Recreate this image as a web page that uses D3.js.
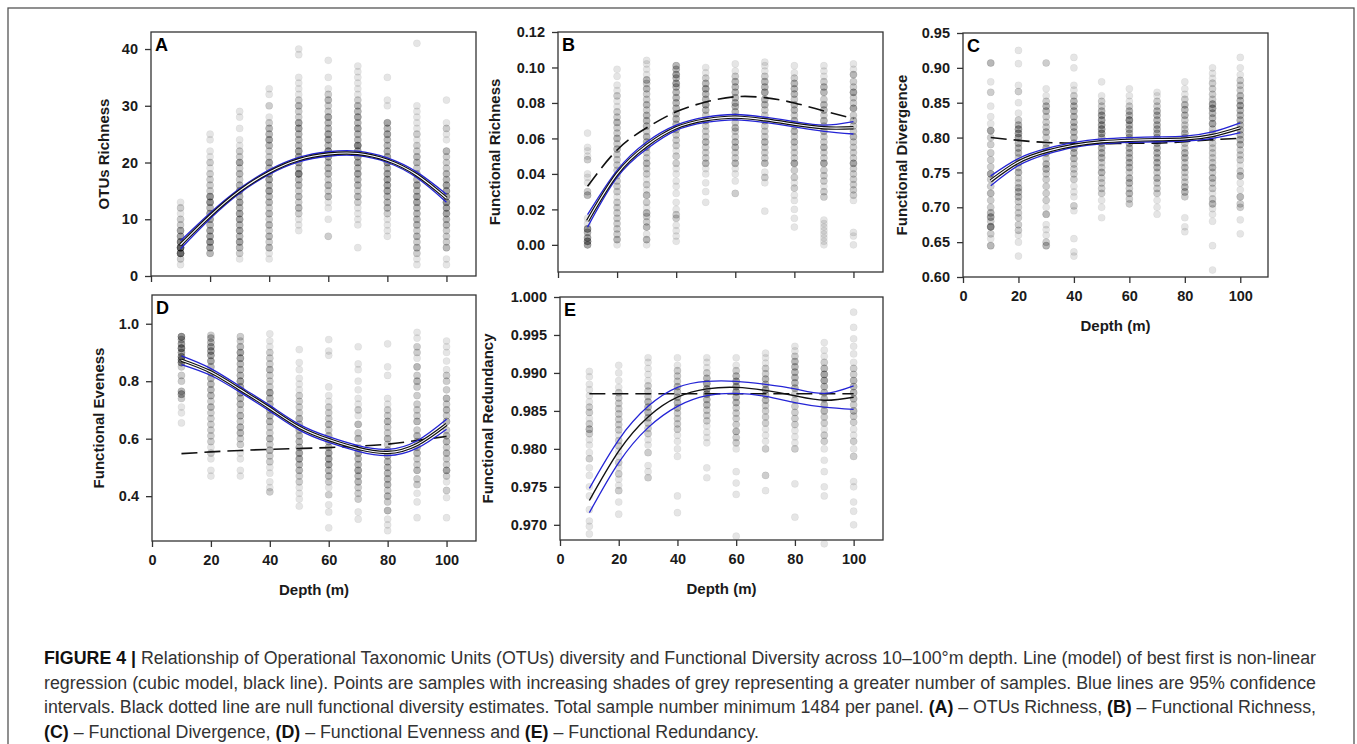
<!DOCTYPE html>
<html><head><meta charset="utf-8">
<script src="https://cdn.jsdelivr.net/npm/d3@7"></script>
<style>body{margin:0;background:#fff}svg{display:block}</style>
</head><body>
<script>
// ---------- DATA ----------
const depths = [10,20,30,40,50,60,70,80,90,100];
const xTicks = [0,20,40,60,80,100];

// points: per depth, [value, number of overlapping samples]
const ptsA = [
 [[2,1],[3,2],[4,8],[5,9],[6,6],[7,4],[8,4],[9,2],[10,2],[11,1],[12,2],[13,1]],
 [[4,3],[5,4],[6,5],[7,4],[8,4],[9,3],[10,4],[11,4],[12,3],[13,5],[14,5],[15,2],[16,2],[17,2],[18,2],[19,1],[20,2],[21,1],[22,1],[24,1],[25,1]],
 [[3,1],[4,2],[5,3],[6,4],[7,3],[8,4],[9,3],[10,4],[11,4],[12,3],[13,4],[14,3],[15,4],[16,3],[17,2],[18,3],[19,2],[20,4],[21,2],[22,2],[23,1],[24,1],[26,1],[28,1],[29,1]],
 [[3,1],[4,1],[5,3],[6,2],[7,3],[8,2],[9,3],[10,2],[11,3],[12,2],[13,3],[14,3],[15,4],[16,3],[17,4],[18,4],[19,3],[20,4],[21,2],[22,2],[23,3],[24,4],[25,3],[26,3],[27,2],[28,1],[30,2],[32,1],[33,1]],
 [[8,1],[9,1],[10,1],[11,2],[12,3],[13,2],[14,3],[15,2],[16,3],[17,3],[18,6],[19,3],[20,4],[21,4],[22,4],[23,3],[24,3],[25,3],[26,4],[27,4],[28,2],[29,2],[30,3],[31,2],[32,1],[33,1],[34,1],[35,1],[39,1],[40,1]],
 [[7,2],[10,1],[12,1],[13,1],[14,3],[15,2],[16,3],[17,2],[18,3],[19,3],[20,3],[21,4],[22,5],[23,3],[24,4],[25,4],[26,3],[27,3],[28,4],[29,2],[30,2],[31,3],[32,2],[33,1],[35,1],[38,1]],
 [[5,1],[9,1],[10,1],[11,1],[12,1],[13,2],[14,3],[15,2],[16,3],[17,3],[18,4],[19,3],[20,4],[21,4],[22,4],[23,6],[24,3],[25,3],[26,4],[27,3],[28,4],[29,3],[30,3],[31,2],[32,1],[33,1],[34,1],[35,1],[36,1],[37,1]],
 [[7,1],[8,1],[9,1],[10,1],[11,2],[12,3],[13,3],[14,3],[15,4],[16,4],[17,4],[18,4],[19,3],[20,5],[21,4],[22,3],[23,3],[24,3],[25,4],[26,3],[27,4],[30,1],[31,1],[35,1]],
 [[2,1],[3,1],[4,2],[5,3],[6,2],[7,3],[8,2],[9,3],[10,3],[11,3],[12,3],[13,4],[14,4],[15,3],[16,4],[17,3],[18,3],[19,2],[20,3],[21,3],[22,2],[23,2],[24,1],[25,2],[26,1],[27,1],[28,1],[29,1],[30,1],[41,1]],
 [[2,1],[3,1],[5,3],[6,2],[7,2],[8,2],[9,3],[10,3],[11,4],[12,4],[13,5],[14,4],[15,4],[16,4],[17,3],[18,3],[19,2],[20,2],[21,2],[22,3],[24,1],[25,1],[26,2],[27,1],[31,1]]
];
const ptsB = [
 [[0.000,4],[0.002,5],[0.004,4],[0.007,3],[0.009,5],[0.012,1],[0.015,1],[0.028,3],[0.030,2],[0.035,1],[0.038,1],[0.040,1],[0.048,2],[0.050,1],[0.053,1],[0.055,1],[0.063,1]],
 [[0.000,1],[0.003,3],[0.006,2],[0.009,2],[0.012,2],[0.015,2],[0.018,2],[0.021,2],[0.024,2],[0.027,1],[0.030,2],[0.033,2],[0.036,2],[0.039,2],[0.042,2],[0.045,2],[0.048,2],[0.051,2],[0.054,3],[0.057,2],[0.060,3],[0.063,2],[0.066,2],[0.069,3],[0.072,2],[0.075,2],[0.078,1],[0.081,1],[0.084,2],[0.087,1],[0.090,1],[0.095,1],[0.099,1]],
 [[0.000,1],[0.003,3],[0.006,1],[0.010,3],[0.013,2],[0.016,2],[0.018,3],[0.021,1],[0.024,2],[0.028,3],[0.031,1],[0.034,2],[0.037,1],[0.040,2],[0.043,2],[0.046,3],[0.049,2],[0.052,2],[0.055,3],[0.058,3],[0.061,3],[0.064,2],[0.067,3],[0.070,3],[0.073,3],[0.076,2],[0.079,3],[0.082,2],[0.085,2],[0.088,3],[0.091,2],[0.093,3],[0.096,1],[0.099,1],[0.102,1],[0.104,1]],
 [[0.002,1],[0.005,1],[0.008,1],[0.011,1],[0.015,2],[0.017,2],[0.020,1],[0.024,1],[0.029,1],[0.033,1],[0.036,1],[0.040,1],[0.043,1],[0.046,2],[0.050,2],[0.053,1],[0.056,2],[0.059,2],[0.062,2],[0.065,3],[0.068,3],[0.071,3],[0.074,3],[0.077,3],[0.080,3],[0.083,3],[0.086,3],[0.089,3],[0.091,4],[0.094,3],[0.096,4],[0.099,3],[0.101,3]],
 [[0.024,1],[0.030,1],[0.035,1],[0.040,1],[0.043,1],[0.046,3],[0.049,2],[0.052,2],[0.055,2],[0.058,3],[0.061,2],[0.064,2],[0.067,2],[0.070,3],[0.073,2],[0.076,3],[0.079,4],[0.082,3],[0.085,3],[0.088,4],[0.091,3],[0.094,2],[0.097,1],[0.100,1]],
 [[0.029,2],[0.036,1],[0.040,1],[0.043,1],[0.046,3],[0.049,2],[0.052,2],[0.055,3],[0.058,3],[0.061,2],[0.064,2],[0.066,3],[0.069,2],[0.072,3],[0.075,3],[0.078,3],[0.080,3],[0.083,3],[0.086,3],[0.089,3],[0.092,3],[0.095,2],[0.098,1],[0.102,1]],
 [[0.019,1],[0.035,1],[0.038,2],[0.041,1],[0.046,3],[0.049,2],[0.052,2],[0.055,2],[0.058,3],[0.061,2],[0.064,2],[0.067,2],[0.070,3],[0.073,2],[0.076,2],[0.079,3],[0.082,3],[0.086,4],[0.089,3],[0.092,3],[0.095,2],[0.098,1],[0.101,1],[0.103,1]],
 [[0.010,1],[0.015,1],[0.020,1],[0.025,1],[0.028,1],[0.032,2],[0.035,1],[0.038,2],[0.042,2],[0.046,4],[0.049,2],[0.052,2],[0.055,2],[0.058,3],[0.061,2],[0.064,3],[0.067,2],[0.070,3],[0.073,2],[0.076,3],[0.079,3],[0.082,2],[0.085,3],[0.088,3],[0.091,3],[0.094,2],[0.097,1],[0.101,1]],
 [[0.000,1],[0.002,1],[0.004,1],[0.006,1],[0.008,1],[0.010,1],[0.012,1],[0.014,1],[0.027,2],[0.030,2],[0.033,1],[0.036,2],[0.039,2],[0.042,2],[0.046,4],[0.049,2],[0.052,2],[0.055,3],[0.058,2],[0.061,2],[0.064,3],[0.067,2],[0.070,3],[0.073,2],[0.076,3],[0.079,3],[0.082,2],[0.086,3],[0.089,3],[0.092,2],[0.095,1],[0.098,1],[0.101,1]],
 [[0.000,1],[0.005,1],[0.007,1],[0.025,1],[0.028,2],[0.031,2],[0.034,2],[0.037,2],[0.040,2],[0.043,2],[0.046,4],[0.049,2],[0.052,2],[0.055,2],[0.058,2],[0.061,3],[0.064,2],[0.067,2],[0.070,3],[0.073,2],[0.077,4],[0.080,2],[0.083,2],[0.086,4],[0.089,2],[0.092,2],[0.096,3],[0.099,1],[0.102,1]]
];
const ptsC = [
 [[0.645,3],[0.655,1],[0.662,2],[0.672,6],[0.680,2],[0.686,4],[0.692,3],[0.700,2],[0.710,2],[0.720,3],[0.730,2],[0.740,2],[0.748,4],[0.758,2],[0.768,2],[0.778,2],[0.790,2],[0.800,2],[0.810,4],[0.820,1],[0.830,1],[0.845,1],[0.865,2],[0.880,1],[0.907,3]],
 [[0.630,1],[0.650,1],[0.660,1],[0.667,2],[0.675,2],[0.685,2],[0.692,2],[0.700,2],[0.708,2],[0.715,3],[0.722,3],[0.728,3],[0.735,2],[0.742,2],[0.750,3],[0.757,2],[0.764,3],[0.771,2],[0.778,3],[0.785,3],[0.792,3],[0.800,4],[0.806,4],[0.812,4],[0.818,3],[0.825,2],[0.835,1],[0.850,1],[0.866,2],[0.875,1],[0.906,1],[0.925,1]],
 [[0.645,3],[0.650,2],[0.660,1],[0.668,1],[0.675,1],[0.690,3],[0.700,1],[0.710,2],[0.720,2],[0.730,2],[0.740,2],[0.748,2],[0.755,3],[0.762,3],[0.770,2],[0.778,3],[0.785,3],[0.792,2],[0.800,2],[0.808,3],[0.815,2],[0.822,2],[0.830,2],[0.838,3],[0.845,3],[0.852,2],[0.860,1],[0.870,1],[0.907,2]],
 [[0.630,1],[0.636,1],[0.655,1],[0.695,1],[0.702,2],[0.715,1],[0.722,1],[0.730,1],[0.740,2],[0.748,2],[0.755,2],[0.762,2],[0.770,3],[0.778,3],[0.785,3],[0.792,3],[0.800,3],[0.808,3],[0.815,3],[0.822,3],[0.830,3],[0.838,3],[0.845,3],[0.852,3],[0.860,2],[0.868,1],[0.875,1],[0.900,1],[0.915,1]],
 [[0.685,1],[0.700,1],[0.710,1],[0.720,2],[0.727,2],[0.735,2],[0.742,2],[0.750,3],[0.757,2],[0.764,2],[0.771,3],[0.778,3],[0.785,3],[0.792,3],[0.800,3],[0.806,4],[0.812,4],[0.818,4],[0.825,4],[0.832,4],[0.838,3],[0.845,2],[0.852,2],[0.860,1],[0.880,1]],
 [[0.705,2],[0.712,2],[0.720,3],[0.727,2],[0.735,3],[0.742,3],[0.750,2],[0.757,3],[0.764,3],[0.771,3],[0.778,3],[0.785,3],[0.792,3],[0.800,3],[0.806,3],[0.812,3],[0.818,3],[0.825,5],[0.832,3],[0.838,3],[0.845,2],[0.852,1],[0.860,1],[0.870,1]],
 [[0.690,1],[0.700,1],[0.710,1],[0.720,2],[0.727,2],[0.735,2],[0.742,3],[0.750,2],[0.757,3],[0.764,3],[0.771,3],[0.778,3],[0.785,3],[0.792,3],[0.800,3],[0.806,3],[0.812,3],[0.818,3],[0.825,3],[0.832,3],[0.838,3],[0.845,2],[0.852,2],[0.860,1],[0.865,1]],
 [[0.665,1],[0.672,1],[0.685,1],[0.715,2],[0.722,3],[0.729,3],[0.736,2],[0.743,2],[0.750,2],[0.757,3],[0.764,2],[0.771,3],[0.778,3],[0.785,2],[0.792,2],[0.800,3],[0.806,3],[0.812,2],[0.818,2],[0.825,2],[0.832,3],[0.840,3],[0.847,3],[0.855,2],[0.862,1],[0.870,1],[0.880,1]],
 [[0.610,1],[0.645,1],[0.680,1],[0.690,1],[0.698,1],[0.705,3],[0.712,2],[0.720,1],[0.727,2],[0.735,2],[0.742,3],[0.750,2],[0.757,3],[0.764,2],[0.771,2],[0.778,2],[0.785,2],[0.792,2],[0.800,3],[0.806,2],[0.812,2],[0.820,4],[0.828,3],[0.835,3],[0.842,4],[0.848,4],[0.855,2],[0.862,2],[0.870,2],[0.878,2],[0.885,1],[0.892,1],[0.900,1]],
 [[0.662,1],[0.682,1],[0.700,2],[0.705,2],[0.715,3],[0.725,1],[0.735,1],[0.745,3],[0.752,2],[0.760,1],[0.768,2],[0.775,2],[0.782,2],[0.790,3],[0.797,3],[0.804,3],[0.811,3],[0.818,3],[0.825,3],[0.832,3],[0.839,3],[0.846,4],[0.853,3],[0.860,3],[0.868,2],[0.875,2],[0.882,2],[0.890,1],[0.900,1],[0.915,1]]
];
const ptsD = [
 [[0.655,1],[0.690,1],[0.710,1],[0.740,2],[0.755,4],[0.765,3],[0.800,2],[0.820,2],[0.850,2],[0.865,5],[0.875,4],[0.885,5],[0.900,4],[0.915,6],[0.930,4],[0.945,3],[0.955,5]],
 [[0.470,1],[0.490,1],[0.530,1],[0.550,2],[0.570,1],[0.590,2],[0.610,2],[0.630,2],[0.650,2],[0.670,2],[0.690,2],[0.710,3],[0.730,2],[0.750,3],[0.770,3],[0.790,3],[0.810,3],[0.830,3],[0.850,3],[0.870,4],[0.890,4],[0.905,4],[0.920,4],[0.935,3],[0.950,3],[0.960,2]],
 [[0.470,1],[0.490,1],[0.530,1],[0.550,1],[0.580,2],[0.600,2],[0.620,3],[0.640,3],[0.660,2],[0.680,3],[0.700,2],[0.720,3],[0.740,3],[0.760,4],[0.780,4],[0.800,4],[0.820,3],[0.840,3],[0.860,3],[0.880,4],[0.900,4],[0.920,3],[0.940,2],[0.955,2]],
 [[0.415,2],[0.430,1],[0.450,1],[0.480,1],[0.500,1],[0.520,2],[0.540,2],[0.560,3],[0.580,2],[0.600,3],[0.620,2],[0.640,2],[0.660,3],[0.680,3],[0.700,3],[0.720,3],[0.740,3],[0.760,4],[0.780,2],[0.800,2],[0.820,2],[0.840,3],[0.860,2],[0.880,2],[0.900,2],[0.920,1],[0.940,1],[0.965,1]],
 [[0.365,1],[0.390,1],[0.410,1],[0.430,1],[0.450,2],[0.470,2],[0.490,3],[0.510,3],[0.530,4],[0.550,4],[0.570,3],[0.590,3],[0.610,3],[0.630,3],[0.650,3],[0.670,3],[0.690,2],[0.710,2],[0.730,2],[0.750,2],[0.770,1],[0.790,1],[0.810,1],[0.840,1],[0.865,1],[0.910,1]],
 [[0.290,1],[0.345,1],[0.370,1],[0.405,2],[0.430,1],[0.450,2],[0.470,3],[0.490,3],[0.510,4],[0.530,4],[0.550,4],[0.570,3],[0.590,3],[0.610,3],[0.630,2],[0.650,3],[0.670,2],[0.690,2],[0.710,2],[0.730,1],[0.750,1],[0.780,1],[0.890,1],[0.905,1],[0.945,1]],
 [[0.320,1],[0.345,1],[0.390,2],[0.410,2],[0.430,2],[0.450,3],[0.470,3],[0.490,4],[0.510,3],[0.530,3],[0.550,4],[0.570,2],[0.600,3],[0.620,2],[0.650,3],[0.680,1],[0.700,2],[0.720,1],[0.740,1],[0.770,1],[0.800,1],[0.840,1],[0.860,1],[0.920,1]],
 [[0.280,1],[0.300,1],[0.320,1],[0.350,3],[0.380,2],[0.400,3],[0.420,2],[0.440,3],[0.460,3],[0.480,3],[0.500,3],[0.520,3],[0.540,3],[0.560,3],[0.580,2],[0.600,3],[0.620,2],[0.640,2],[0.660,3],[0.680,2],[0.700,2],[0.720,1],[0.740,1],[0.820,1],[0.850,1],[0.930,1]],
 [[0.325,1],[0.380,1],[0.410,1],[0.440,2],[0.460,2],[0.490,3],[0.510,2],[0.530,2],[0.550,3],[0.570,3],[0.590,3],[0.610,3],[0.630,2],[0.660,3],[0.680,2],[0.700,2],[0.720,2],[0.750,2],[0.780,2],[0.800,3],[0.820,2],[0.850,3],[0.880,1],[0.900,2],[0.920,2],[0.950,1],[0.970,1]],
 [[0.325,1],[0.395,1],[0.420,2],[0.450,1],[0.470,2],[0.490,4],[0.510,2],[0.530,2],[0.550,3],[0.570,2],[0.590,3],[0.610,3],[0.630,2],[0.660,3],[0.680,2],[0.700,3],[0.720,2],[0.740,3],[0.770,2],[0.800,2],[0.820,2],[0.840,1],[0.870,1],[0.900,1],[0.920,1],[0.940,1]]
];
const ptsE = [
 [[0.9688,1],[0.9698,1],[0.9705,1],[0.9720,1],[0.9738,1],[0.9750,1],[0.9765,1],[0.9775,1],[0.9787,2],[0.9795,1],[0.9805,1],[0.9812,1],[0.9820,2],[0.9826,3],[0.9833,2],[0.9840,1],[0.9848,2],[0.9855,2],[0.9862,1],[0.9870,1],[0.9878,1],[0.9885,1],[0.9895,1],[0.9902,1]],
 [[0.9714,1],[0.9730,1],[0.9745,2],[0.9752,1],[0.9760,1],[0.9767,2],[0.9775,1],[0.9782,2],[0.9790,1],[0.9797,1],[0.9804,2],[0.9811,2],[0.9818,1],[0.9825,2],[0.9832,2],[0.9839,2],[0.9846,2],[0.9853,2],[0.9860,2],[0.9867,2],[0.9874,2],[0.9881,1],[0.9890,1],[0.9900,1],[0.9910,1]],
 [[0.9762,2],[0.9770,1],[0.9778,1],[0.9795,2],[0.9805,1],[0.9812,1],[0.9820,2],[0.9827,2],[0.9834,2],[0.9841,3],[0.9848,3],[0.9855,3],[0.9862,3],[0.9869,2],[0.9876,2],[0.9883,2],[0.9890,1],[0.9898,1],[0.9906,1],[0.9914,1],[0.9920,1]],
 [[0.9716,1],[0.9738,1],[0.9790,1],[0.9800,1],[0.9810,1],[0.9818,1],[0.9826,2],[0.9833,2],[0.9840,2],[0.9847,2],[0.9854,3],[0.9861,3],[0.9868,3],[0.9875,3],[0.9882,3],[0.9889,2],[0.9896,2],[0.9903,2],[0.9910,1],[0.9920,1]],
 [[0.9762,1],[0.9775,1],[0.9808,1],[0.9815,1],[0.9822,1],[0.9830,1],[0.9837,2],[0.9844,2],[0.9851,2],[0.9858,3],[0.9865,3],[0.9872,4],[0.9879,4],[0.9886,4],[0.9893,3],[0.9900,2],[0.9907,1],[0.9914,1],[0.9920,1]],
 [[0.9685,1],[0.9740,1],[0.9755,1],[0.9770,1],[0.9800,1],[0.9808,2],[0.9815,2],[0.9823,3],[0.9832,2],[0.9840,2],[0.9847,2],[0.9854,2],[0.9861,3],[0.9868,3],[0.9875,4],[0.9882,4],[0.9889,4],[0.9896,3],[0.9903,2],[0.9910,1],[0.9920,1]],
 [[0.9745,1],[0.9765,2],[0.9800,2],[0.9810,1],[0.9818,1],[0.9826,1],[0.9834,2],[0.9842,2],[0.9850,2],[0.9857,2],[0.9864,3],[0.9871,3],[0.9878,4],[0.9885,3],[0.9892,3],[0.9899,2],[0.9906,2],[0.9913,1],[0.9920,1],[0.9926,1]],
 [[0.9710,1],[0.9754,1],[0.9800,2],[0.9808,1],[0.9816,1],[0.9824,1],[0.9832,2],[0.9840,2],[0.9848,2],[0.9856,2],[0.9864,2],[0.9872,2],[0.9880,3],[0.9887,3],[0.9894,3],[0.9901,3],[0.9908,3],[0.9915,3],[0.9922,2],[0.9929,1],[0.9935,1]],
 [[0.9675,1],[0.9738,1],[0.9750,1],[0.9770,1],[0.9785,1],[0.9800,1],[0.9810,2],[0.9818,2],[0.9826,1],[0.9834,2],[0.9842,2],[0.9850,3],[0.9858,3],[0.9866,3],[0.9874,3],[0.9882,3],[0.9890,4],[0.9898,4],[0.9906,3],[0.9914,2],[0.9922,1],[0.9930,1],[0.9940,1]],
 [[0.9700,1],[0.9718,1],[0.9730,1],[0.9750,1],[0.9757,1],[0.9790,2],[0.9800,1],[0.9810,2],[0.9818,1],[0.9826,1],[0.9835,2],[0.9843,2],[0.9850,3],[0.9858,2],[0.9866,3],[0.9874,3],[0.9882,3],[0.9890,3],[0.9898,2],[0.9906,2],[0.9914,1],[0.9925,1],[0.9935,1],[0.9945,1],[0.9960,1],[0.9980,1]]
];

// cubic model fits, 95% CI, null model (values at depths 10..100)
const fitA = [5.5,10.6,15.0,18.3,20.5,21.5,21.6,20.4,17.8,13.7];
const upA  = [6.2,11.1,15.4,18.7,20.9,21.9,22.0,20.8,18.3,14.4];
const loA  = [4.8,10.1,14.6,17.9,20.1,21.1,21.2,20.0,17.3,13.0];

const fitB = [0.0135,0.040,0.056,0.066,0.0705,0.072,0.0705,0.068,0.066,0.066];
const upB  = [0.017,0.042,0.058,0.0675,0.072,0.0735,0.072,0.0695,0.0675,0.0695];
const loB  = [0.010,0.038,0.054,0.0645,0.069,0.0705,0.069,0.0665,0.0640,0.0625];
const nullB= [0.033,0.0535,0.066,0.075,0.0805,0.0835,0.083,0.080,0.0755,0.0712];

const fitC = [0.738,0.765,0.780,0.789,0.794,0.796,0.797,0.798,0.803,0.814];
const upC  = [0.745,0.770,0.784,0.793,0.798,0.800,0.801,0.802,0.808,0.821];
const loC  = [0.731,0.760,0.776,0.786,0.791,0.793,0.794,0.795,0.799,0.807];
const nullC= [0.800,0.796,0.793,0.792,0.791,0.792,0.792,0.794,0.797,0.799];

const fitD = [0.873,0.832,0.771,0.706,0.640,0.597,0.566,0.552,0.580,0.650];
const upD  = [0.888,0.844,0.781,0.716,0.650,0.607,0.576,0.563,0.593,0.668];
const loD  = [0.858,0.820,0.761,0.696,0.630,0.587,0.556,0.541,0.567,0.633];
const nullD= [0.548,0.554,0.559,0.563,0.566,0.569,0.574,0.581,0.594,0.608];

const fitE = [0.9732,0.9797,0.9842,0.9868,0.9879,0.9881,0.9877,0.9870,0.9864,0.9868];
const upE  = [0.9748,0.9812,0.9856,0.9881,0.9889,0.9889,0.9885,0.9879,0.9873,0.9883];
const loE  = [0.9716,0.9782,0.9828,0.9856,0.9870,0.9873,0.9869,0.9861,0.9855,0.9852];
const nullE= [0.98725,0.98725,0.98725,0.98725,0.98725,0.98725,0.98725,0.98725,0.98725,0.98725];

const yTicksA = [0,10,20,30,40];
const yTicksB = [0,0.02,0.04,0.06,0.08,0.10,0.12];
const yTicksC = [0.60,0.65,0.70,0.75,0.80,0.85,0.90,0.95];
const yTicksD = [0.4,0.6,0.8,1.0];
const yTicksE = [0.970,0.975,0.980,0.985,0.990,0.995,1.000];

const captionLines = [
 [["FIGURE 4 | ",true],["Relationship of Operational Taxonomic Units (OTUs) diversity and Functional Diversity across 10–100°m depth. Line (model) of best first is non-linear",false]],
 [["regression (cubic model, black line). Points are samples with increasing shades of grey representing a greater number of samples. Blue lines are 95% confidence",false]],
 [["intervals. Black dotted line are null functional diversity estimates. Total sample number minimum 1484 per panel. ",false],["(A)",true],[" – OTUs Richness, ",false],["(B)",true],[" – Functional Richness,",false]],
 [["(C)",true],[" – Functional Divergence, ",false],["(D)",true],[" – Functional Evenness and ",false],["(E)",true],[" – Functional Redundancy.",false]]
];

// ---------- LAYOUT ----------
const panels = [
 {letter:"A", title:"OTUs Richness", x0:151,x1:476,y0:32,y1:276, ydom:[0,43], yt:yTicksA, fmt:d3.format("d"), pts:ptsA, fit:fitA, up:upA, lo:loA, nul:null, xlab:false, titleX:104, cased:true},
 {letter:"B", title:"Functional Richness", x0:558,x1:883,y0:32,y1:272, ydom:[-0.0153,0.12], yt:yTicksB, fmt:d3.format(".2f"), pts:ptsB, fit:fitB, up:upB, lo:loB, nul:nullB, xlab:false, titleX:495, cased:true},
 {letter:"C", title:"Functional Divergence", x0:963,x1:1268,y0:33,y1:277, ydom:[0.60,0.95], yt:yTicksC, fmt:d3.format(".2f"), pts:ptsC, fit:fitC, up:upC, lo:loC, nul:nullC, xlab:true, titleX:902, cased:true},
 {letter:"D", title:"Functional Eveness", x0:152,x1:476,y0:295,y1:541, ydom:[0.244,1.10], yt:yTicksD, fmt:d3.format(".1f"), pts:ptsD, fit:fitD, up:upD, lo:loD, nul:nullD, xlab:true, titleX:99, cased:true},
 {letter:"E", title:"Functional Redundancy", x0:560,x1:883,y0:297,y1:540, ydom:[0.968,1.000], yt:yTicksE, fmt:d3.format(".3f"), pts:ptsE, fit:fitE, up:upE, lo:loE, nul:nullE, xlab:true, titleX:488, cased:false}
];

const FONT = "'Liberation Sans', Arial, Helvetica, sans-serif";
const BLUE = "#2424d6";
const W = 1357, H = 744;

const svg = d3.select("body").append("svg").attr("width", W).attr("height", H)
  .style("font-family", FONT);

svg.append("rect").attr("x", 8).attr("y", 8).attr("width", 1346).attr("height", 780)
  .attr("fill", "none").attr("stroke", "#555").attr("stroke-width", 1.3);

panels.forEach(p => {
  const x = d3.scaleLinear().domain([0,110]).range([p.x0, p.x1]);
  const y = d3.scaleLinear().domain(p.ydom).range([p.y1, p.y0]);
  const g = svg.append("g");

  // points
  const flat = [];
  p.pts.forEach((col, i) => col.forEach(([v, n]) => { for (let k = 0; k < n; k++) flat.push({d: depths[i], v}); }));
  g.append("g").selectAll("circle").data(flat).join("circle")
    .attr("cx", d => x(d.d)).attr("cy", d => y(d.v)).attr("r", 3.6)
    .attr("fill", "#000").attr("fill-opacity", 0.1)
    .attr("stroke", "#000").attr("stroke-opacity", 0.05).attr("stroke-width", 0.8);

  const line = arr => d3.line().x((v,i) => x(depths[i])).y(v => y(v)).curve(d3.curveNatural)(arr);

  if (p.nul) g.append("path").attr("d", line(p.nul)).attr("fill", "none")
    .attr("stroke", "#111").attr("stroke-width", 1.6).attr("stroke-dasharray", "16,7");

  g.append("path").attr("d", line(p.up)).attr("fill","none").attr("stroke", BLUE).attr("stroke-width", 1.3);
  g.append("path").attr("d", line(p.lo)).attr("fill","none").attr("stroke", BLUE).attr("stroke-width", 1.3);
  if (p.cased) {
    g.append("path").attr("d", line(p.fit)).attr("fill","none").attr("stroke", "#111").attr("stroke-width", 3.4);
    g.append("path").attr("d", line(p.fit)).attr("fill","none").attr("stroke", "#fff").attr("stroke-width", 1.1);
  } else {
    g.append("path").attr("d", line(p.fit)).attr("fill","none").attr("stroke", "#111").attr("stroke-width", 1.4);
  }

  // box
  g.append("rect").attr("x", p.x0).attr("y", p.y0).attr("width", p.x1 - p.x0).attr("height", p.y1 - p.y0)
    .attr("fill", "none").attr("stroke", "#333").attr("stroke-width", 1.3);

  // axes
  const ya = g.append("g").attr("transform", `translate(${p.x0},0)`)
    .call(d3.axisLeft(y).tickValues(p.yt).tickFormat(p.fmt).tickSize(6).tickPadding(7).tickSizeOuter(0));
  const xa = g.append("g").attr("transform", `translate(0,${p.y1})`)
    .call(d3.axisBottom(x).tickValues(xTicks).tickSize(6).tickPadding(8).tickSizeOuter(0)
      .tickFormat(p.xlab ? d3.format("d") : () => ""));
  [ya, xa].forEach(a => {
    a.select(".domain").remove();
    a.selectAll("line").attr("stroke", "#333").attr("stroke-width", 1.3);
    a.selectAll("text").attr("fill", "#1a1a1a").style("font-size", "14.5px").style("font-weight", "bold").style("font-family", FONT);
  });

  // titles
  g.append("text").attr("transform", `translate(${p.titleX},${(p.y0 + p.y1)/2}) rotate(-90)`)
    .attr("text-anchor", "middle").attr("dy", "0.35em")
    .style("font-size", "15px").style("font-weight", "bold").attr("fill", "#1a1a1a").text(p.title);
  if (p.xlab) g.append("text").attr("x", (p.x0 + p.x1)/2).attr("y", p.y1 + 54)
    .attr("text-anchor", "middle").style("font-size", "15px").style("font-weight", "bold")
    .attr("fill", "#1a1a1a").text("Depth (m)");
  g.append("text").attr("x", p.x0 + 4).attr("y", p.y0 + 19)
    .style("font-size", "18px").style("font-weight", "bold").attr("fill", "#000").text(p.letter);
});

// caption: size the font so that line 1 fills the measured width
const capBase = [664, 689, 713, 738];
const capWidth = [1272, 1272, 1272, null];
const capTexts = captionLines.map((ln, i) => {
  const t = svg.append("text").attr("x", 44).attr("y", capBase[i])
    .style("font-size", "15px").attr("fill", "#333");
  ln.forEach(([s, b]) => t.append("tspan").text(s).style("font-weight", b ? "bold" : "normal")
    .attr("fill", b ? "#111" : "#333"));
  return t;
});
const natural = capTexts[0].node().getComputedTextLength();
const fs = 15 * 1272 / natural;
capTexts.forEach((t, i) => {
  t.style("font-size", fs + "px");
  if (capWidth[i]) t.attr("textLength", capWidth[i]).attr("lengthAdjust", "spacing");
});
</script>
</body></html>
